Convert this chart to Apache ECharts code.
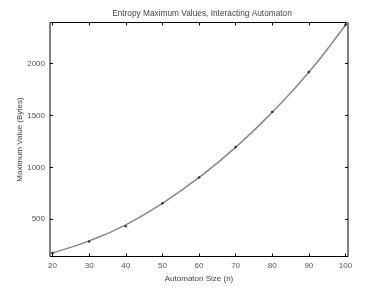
<!DOCTYPE html>
<html><head><meta charset="utf-8">
<script src="https://cdn.jsdelivr.net/npm/echarts@6/dist/echarts.min.js"></script>
<style>html,body{margin:0;padding:0;background:#fff}#c{width:385px;height:289px}</style>
</head><body><div id="c"></div>
<script>
var sizes = [20, 30, 40, 50, 60, 70, 80, 90, 100];
var maxValues = [172, 284, 432, 654, 901, 1195, 1533, 1919, 2375];
var fitX = [19.3, 20, 30, 40, 50, 60, 70, 80, 90, 100, 100.7];
var fitY = [162, 172, 290, 445, 652, 902, 1192, 1532, 1917, 2372, 2404];
var xTicks = [20, 30, 40, 50, 60, 70, 80, 90, 100];
var yTicks = [500, 1000, 1500, 2000];
var xMin = 19.3, xMax = 100.7, yMin = 139, yMax = 2398;

var chart = echarts.init(document.getElementById('c'), null, {renderer: 'canvas'});
var font = 'Liberation Sans, Arial, sans-serif';
function axisCommon(ticks, showLabel) {
  return {
    axisLine: {show: false},
    splitLine: {show: false},
    axisTick: {show: true, inside: true, length: 3, customValues: ticks, lineStyle: {color: '#000', width: 1}},
    axisLabel: {show: showLabel, customValues: ticks, color: '#555', fontSize: 8, fontFamily: font, margin: 5,
      formatter: function(v){ return String(v); }}
  };
}
var xb = Object.assign({type: 'value', position: 'bottom', min: xMin, max: xMax,
  name: 'Automaton Size (n)', nameLocation: 'middle', nameGap: 18, nameMoveOverlap: false,
  nameTextStyle: {color: '#444', fontSize: 8, fontFamily: font}}, axisCommon(xTicks, true));
var xt = Object.assign({type: 'value', position: 'top', min: xMin, max: xMax}, axisCommon(xTicks, false));
var yl = Object.assign({type: 'value', position: 'left', min: yMin, max: yMax,
  name: 'Maximum Value (Bytes)', nameLocation: 'middle', nameGap: 26, nameMoveOverlap: false,
  nameTextStyle: {color: '#444', fontSize: 8, fontFamily: font}}, axisCommon(yTicks, true));
var yr = Object.assign({type: 'value', position: 'right', min: yMin, max: yMax}, axisCommon(yTicks, false));

chart.setOption({
  animation: false,
  backgroundColor: '#fff',
  title: {text: 'Entropy Maximum Values, Interacting Automaton', left: 197, top: 5, textAlign: 'center',
    textStyle: {color: '#444', fontSize: 8.3, fontWeight: 'normal', fontFamily: font}},
  grid: {left: 50, right: 37, top: 22.5, bottom: 32.5, show: true, borderColor: '#000', borderWidth: 1, backgroundColor: 'transparent'},
  xAxis: [xb, xt],
  yAxis: [yl, yr],
  series: [
    {type: 'line', xAxisIndex: 0, yAxisIndex: 0, data: fitX.map(function(x, i){return [x, fitY[i]];}),
      smooth: true, symbol: 'none', lineStyle: {color: '#888', width: 1.5}, clip: true, z: 2},
    {type: 'scatter', xAxisIndex: 0, yAxisIndex: 0, data: sizes.map(function(x, i){return [x, maxValues[i]];}),
      symbol: 'circle', symbolSize: 2.5, itemStyle: {color: '#111'}, z: 3}
  ]
});
</script></body></html>
